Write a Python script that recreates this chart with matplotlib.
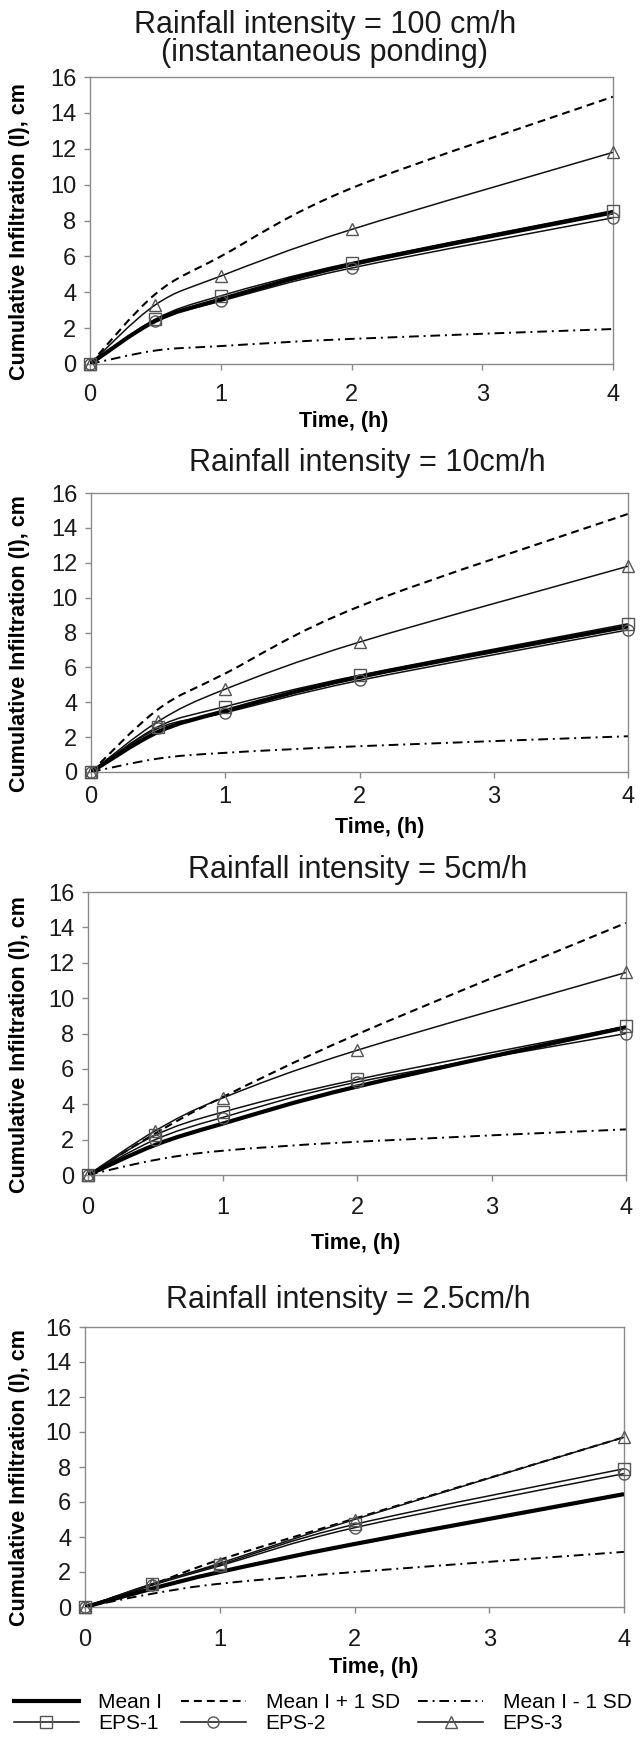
"""Cumulative infiltration vs time for four rainfall intensities."""

from matplotlib import pyplot
from matplotlib.lines import Line2D
from matplotlib.patches import PathPatch
from matplotlib.path import Path
import numpy

pyplot.rcParams['font.family'] = ['Liberation Sans', 'DejaVu Sans']

# Data: time (h) and cumulative infiltration (cm).
# One row per panel (100, 10, 5, 2.5 cm/h).
time = [0, 0.5, 1, 2, 4]
titles = ['Rainfall intensity = 100 cm/h\n(instantaneous ponding)',
          'Rainfall intensity = 10cm/h',
          'Rainfall intensity = 5cm/h',
          'Rainfall intensity = 2.5cm/h']
mean_i = [[0, 2.4, 3.6, 5.55, 8.45],
          [0, 2.3, 3.5, 5.45, 8.35],
          [0, 1.7, 2.9, 5.0, 8.35],
          [0, 1.05, 2.0, 3.6, 6.45]]
mean_plus_sd = [[0, 3.9, 6.0, 9.8, 14.9],
                [0, 3.6, 5.65, 9.5, 14.8],
                [0, 2.35, 4.4, 7.95, 14.25],
                [0, 1.3, 2.7, 5.05, 9.7]]
mean_minus_sd = [[0, 0.75, 1.0, 1.4, 1.95],
                 [0, 0.77, 1.1, 1.48, 2.05],
                 [0, 0.85, 1.37, 1.88, 2.58],
                 [0, 0.76, 1.33, 2.0, 3.15]]
eps1 = [[0, 2.5, 3.8, 5.65, 8.55],
        [0, 2.6, 3.75, 5.55, 8.5],
        [0, 2.25, 3.55, 5.4, 8.4],
        [0, 1.33, 2.42, 4.72, 7.9]]
eps2 = [[0, 2.4, 3.5, 5.35, 8.15],
        [0, 2.5, 3.4, 5.25, 8.15],
        [0, 2.0, 3.25, 5.25, 8.0],
        [0, 1.25, 2.35, 4.53, 7.62]]
eps3 = [[0, 3.3, 4.9, 7.5, 11.8],
        [0, 2.9, 4.75, 7.45, 11.8],
        [0, 2.5, 4.35, 7.05, 11.45],
        [0, 1.3, 2.5, 5.0, 9.7]]

# Layout in pixels of the 641x1738 figure: axes box (left, right, top,
# bottom), title centre, x-label centre and tick-label pad.
W, H = 641, 1738
boxes = [(90, 613, 77, 364), (91, 628, 493, 772),
         (88, 626, 892, 1175), (85, 624, 1327, 1607)]
title_pos = [(325, 39), (367, 463), (358, 870), (348, 1300)]
xlabel_pos = [(344, 422), (380, 827), (356, 1243), (374, 1668)]
xpads = [10.4, 6.1, 11.2, 11.2]

DASHED = (0, (3.8, 2.4))
DASHDOT = (0, (5, 2.5, 1, 2.5))


def smooth_path(x, y):
    """Excel-style smoothed line: cubic Bezier through every point."""
    pts = numpy.column_stack([x, y]).astype(float)
    p = numpy.vstack([pts[0], pts, pts[-1]])
    verts, codes = [pts[0]], [Path.MOVETO]
    for i in range(len(pts) - 1):
        p0, p1, p2, p3 = p[i], p[i + 1], p[i + 2], p[i + 3]
        verts += [p1 + (p2 - p0) / 6, p2 - (p3 - p1) / 6, p2]
        codes += [Path.CURVE4] * 3
    return Path(verts, codes)


def smooth_line(ax, y, **kw):
    ax.add_patch(PathPatch(smooth_path(time, y), fill=False,
                           capstyle='butt', **kw))


fig = pyplot.figure(figsize=(W / 100, H / 100), dpi=100)

mk = dict(linestyle='none', markersize=8, markerfacecolor='none',
          markeredgecolor='#555555', markeredgewidth=1.0, clip_on=False,
          zorder=5)

for k in range(4):
    l, r, t, b = boxes[k]
    ax = fig.add_axes([l / W, 1 - b / H, (r - l) / W, (b - t) / H])

    smooth_line(ax, mean_plus_sd[k], color='black', lw=1.5, linestyle=DASHED)
    smooth_line(ax, mean_minus_sd[k], color='black', lw=1.4,
                linestyle=DASHDOT)
    for series, marker in zip([eps1, eps2, eps3], ['s', 'o', '^']):
        smooth_line(ax, series[k], color='#111111', lw=1.1)
        ax.plot(time, series[k], marker=marker, **mk)
    smooth_line(ax, mean_i[k], color='black', lw=3.0, zorder=4)

    ax.set_xlim(0, 4)
    ax.set_ylim(0, 16)
    ax.set_xticks([0, 1, 2, 3, 4])
    ax.set_yticks(numpy.arange(0, 17, 2))
    for s in ax.spines.values():
        s.set_color('#8a8a8a')
        s.set_linewidth(1.0)
    ax.tick_params(axis='both', direction='out', length=4.3, width=1.0,
                   color='#8a8a8a', labelsize=17, labelcolor='#1a1a1a')
    ax.tick_params(axis='y', pad=5.5)
    ax.tick_params(axis='x', pad=xpads[k])

    ax.set_xlabel('Time, (h)', fontsize=15.5, fontweight='bold', va='center')
    xx, xy = xlabel_pos[k]
    ax.xaxis.set_label_coords(xx / W, 1 - xy / H, transform=fig.transFigure)
    ax.set_ylabel('Cumulative Infiltration (I), cm', fontsize=15.5,
                  fontweight='bold', va='center')
    ax.yaxis.set_label_coords(20 / W, 1 - ((t + b) / 2 + 11) / H,
                              transform=fig.transFigure)

    tx, ty = title_pos[k]
    fig.text(tx / W, 1 - ty / H, titles[k], ha='center', va='center',
             fontsize=22, linespacing=0.95, color='#1a1a1a')

# Legend along the bottom of the figure.
handles = [
    Line2D([], [], color='black', lw=3.0),
    Line2D([], [], color='#111111', lw=1.1, marker='s', markersize=8,
           markerfacecolor='none', markeredgecolor='#555555'),
    Line2D([], [], color='black', lw=1.5, linestyle=DASHED),
    Line2D([], [], color='#111111', lw=1.1, marker='o', markersize=8,
           markerfacecolor='none', markeredgecolor='#555555'),
    Line2D([], [], color='black', lw=1.4, linestyle=DASHDOT),
    Line2D([], [], color='#111111', lw=1.1, marker='^', markersize=9,
           markerfacecolor='none', markeredgecolor='#555555'),
]
labels = ['Mean I', 'EPS-1', 'Mean I + 1 SD', 'EPS-2', 'Mean I - 1 SD',
          'EPS-3']
fig.legend(handles, labels, ncol=3, loc='upper left',
           bbox_to_anchor=(14 / W, 1 - 1693 / H), frameon=False,
           fontsize=15, handlelength=3.1, handletextpad=0.95,
           columnspacing=0.9, labelspacing=0.1, borderpad=0,
           borderaxespad=0)

fig.savefig('out.png', dpi=100)
